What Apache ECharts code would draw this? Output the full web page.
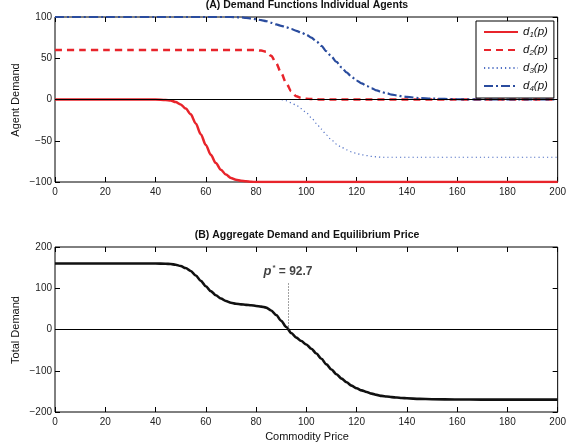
<!DOCTYPE html>
<html>
<head>
<meta charset="utf-8">
<script src="https://cdn.jsdelivr.net/npm/echarts@6/dist/echarts.min.js"></script>
<style>html,body{margin:0;padding:0;background:#fff;}#c{width:569px;height:448px;}</style>
</head>
<body>
<div id="c"></div>
<script>
// ---- data ----
var price = [0,10,20,30,40,44,46,48,50,52,54,56,58,60,62,64,66,68,70,72,74,76,78,80,82,84,86,88,90,92,94,96,98,100,102,104,106,108,110,112,114,116,118,120,122,124,126,128,130,132,134,136,138,140,145,150,160,170,180,190,200];
var d1 = [0,0,0,0,0,-0.5,-1.2,-3,-6,-11,-18,-29,-42,-55,-67,-77,-85,-91,-95,-97.3,-98.5,-99.2,-99.7,-100,-100,-100,-100,-100,-100,-100,-100,-100,-100,-100,-100,-100,-100,-100,-100,-100,-100,-100,-100,-100,-100,-100,-100,-100,-100,-100,-100,-100,-100,-100,-100,-100,-100,-100,-100,-100,-100];
var d2 = [60,60,60,60,60,60,60,60,60,60,60,60,60,60,60,60,60,60,60,60,60,60,60,59.8,59.3,58,53,44,32,20,10,4,2,1,0.5,0.2,0,0,0,0,0,0,0,0,0,0,0,0,0,0,0,0,0,0,0,0,0,0,0,0,0];
var d3 = [0,0,0,0,0,0,0,0,0,0,0,0,0,0,0,0,0,0,0,0,0,0,0,0,0,0,0,0,0,-1.5,-4,-7,-11,-16,-22,-29,-36,-43,-49,-54,-58,-61,-63.5,-65.5,-67,-68,-69,-69.5,-70,-70,-70,-70,-70,-70,-70,-70,-70,-70,-70,-70,-70];
var d4 = [100,100,100,100,100,100,100,100,100,100,100,100,100,100,100,100,100,100,100,99.8,99.5,99,98.3,97.3,96.2,95,93,91,89.3,87.5,85.5,83.3,81,78.5,75,70.5,65,58.5,52,45.5,39,33,27.5,23,19.5,16.5,13.5,11,9,7.5,6,5,4,3.2,1.7,1,0.3,0,0,0,0];
var total = [160,160,160,160,160,159.5,158.8,157,154,149,142,131,118,105,93,83,75,69,65,62.5,61,59.8,58.8,57.1,55.5,53,46,35,21.3,6,-8.5,-19.7,-28,-36.5,-46.5,-58.3,-71,-84.5,-97,-108.5,-119,-128,-136,-142.5,-147.5,-151.5,-155.5,-158.5,-161,-162.5,-164,-165,-166,-166.8,-168.3,-169,-169.7,-170,-170,-170,-170];
var seriesNames = ['d1','d2','d3','d4'];
var subs = ['1','2','3','4'];
var pStar = 92.7;
var pStarLabelY = 140;
var pStarLineTop = 112;
var xTicks = {min:0, max:200, interval:20};
var yTopTicks = {min:-100, max:100, interval:50};
var yBotTicks = {min:-200, max:200, interval:100};
var titleA = '(A) Demand Functions Individual Agents';
var titleB = '(B) Aggregate Demand and Equilibrium Price';
var yNameA = 'Agent Demand';
var yNameB = 'Total Demand';
var xNameB = 'Commodity Price';

function pairs(ys){ return price.map(function(p,i){ return [p, ys[i]]; }); }
function minusFmt(v){ return String(v).replace('-', '\u2212'); }

var FONT = 'Liberation Sans, Arial, Helvetica, sans-serif';

function xAx(gi, pos, show){
  return {type:'value', gridIndex:gi, position:pos, min:xTicks.min, max:xTicks.max, interval:xTicks.interval,
    axisLine:{show:false, onZero:false}, splitLine:{show:false},
    axisTick:{show:true, inside:true, length:5, lineStyle:{color:'#000'}},
    axisLabel:{show:show, margin:5, formatter:minusFmt, color:'#222', fontSize:10, fontFamily:FONT}};
}
function yAx(gi, pos, t, show){
  return {type:'value', gridIndex:gi, position:pos, min:t.min, max:t.max, interval:t.interval,
    axisLine:{show:false, onZero:false}, splitLine:{show:false},
    axisTick:{show:true, inside:true, length:5, lineStyle:{color:'#000'}},
    axisLabel:{show:show, margin:3, formatter:minusFmt, color:'#222', fontSize:10, fontFamily:FONT}};
}

var chart = echarts.init(document.getElementById('c'), null, {renderer:'canvas'});
var colors = ['#e8242b','#e8242b','#4f6fc4','#2a4c9e'];
var widths = [2.5,2.5,1.2,2.2];
var types = ['solid',[7,5],[1.2,3],[9,3,2,3]];
var dataSets = [d1,d2,d3,d4];

var series = dataSets.map(function(ds,i){
  var s = {name:seriesNames[i], type:'line', xAxisIndex:0, yAxisIndex:0, data:pairs(ds),
    showSymbol:false, symbol:'none', smooth:0.3, smoothMonotone:'x',
    lineStyle:{color:colors[i], width:widths[i], type:types[i]}, itemStyle:{color:colors[i]}, z:3};
  if(i===0){
    s.markLine = {silent:true, symbol:'none', animation:false, label:{show:false},
      lineStyle:{color:'#000', type:'solid', width:1}, data:[{yAxis:0}]};
  }
  return s;
});
series.push({name:'total', type:'line', xAxisIndex:2, yAxisIndex:2, data:pairs(total),
  showSymbol:false, symbol:'none', smooth:0.3, smoothMonotone:'x',
  lineStyle:{color:'#111', width:2.6}, z:3,
  markLine:{silent:true, symbol:'none', animation:false, label:{show:false},
    data:[
      [{coord:[xTicks.min,0], lineStyle:{color:'#000', type:'solid', width:1}},{coord:[xTicks.max,0]}],
      [{coord:[pStar,0], lineStyle:{color:'#444', type:[1,2], width:1}},{coord:[pStar,pStarLineTop]}]
    ]}
});
series.push({name:'pstar', type:'scatter', xAxisIndex:2, yAxisIndex:2, data:[[pStar,pStarLabelY]],
  symbolSize:0, silent:true,
  label:{show:true, position:'inside', formatter:'{p|p}{s|*}{t| = ' + pStar + '}',
    rich:{p:{fontSize:13, fontWeight:'bold', fontStyle:'italic', fontFamily:FONT, color:'#111', lineHeight:16},
          s:{fontSize:8, fontWeight:'bold', fontFamily:FONT, color:'#111', verticalAlign:'top', lineHeight:16, padding:[0,0,0,1]},
          t:{fontSize:12, fontWeight:'bold', fontFamily:FONT, color:'#111', lineHeight:16}}}
});

var option = {
  animation:false,
  backgroundColor:'#fff',
  grid:[
    {left:55, right:10, top:17, height:165, show:true, borderColor:'#000', borderWidth:1, backgroundColor:'transparent'},
    {left:55, right:10, top:247, height:165, show:true, borderColor:'#000', borderWidth:1, backgroundColor:'transparent'}
  ],
  xAxis:[xAx(0,'bottom',true), xAx(0,'top',false), xAx(1,'bottom',true), xAx(1,'top',false)],
  yAxis:[yAx(0,'left',yTopTicks,true), yAx(0,'right',yTopTicks,false), yAx(1,'left',yBotTicks,true), yAx(1,'right',yBotTicks,false)],
  legend:{data:seriesNames, orient:'vertical', left:476, top:21, width:73,
    backgroundColor:'#fff', borderColor:'#000', borderWidth:1, borderRadius:0,
    padding:[5,6,5,7], itemWidth:34, itemHeight:14, itemGap:5, selectedMode:false,
    itemStyle:{opacity:0, borderWidth:0},
    formatter:function(n){ var i = seriesNames.indexOf(n); return '{d|d}{s|' + subs[i] + '}{d|(p)}'; },
    textStyle:{fontSize:11, fontStyle:'italic', fontFamily:FONT, color:'#111',
      rich:{d:{fontSize:11.5, fontStyle:'italic', fontFamily:FONT, color:'#111', lineHeight:14},
            s:{fontSize:8, fontStyle:'italic', fontFamily:FONT, color:'#111', verticalAlign:'bottom', lineHeight:14, padding:[5,0,0,0]}}}
  },
  graphic:[
    {type:'text', x:307, y:5, style:{text:titleA, font:'bold 10.5px ' + FONT, fill:'#111', textAlign:'center', textVerticalAlign:'middle'}},
    {type:'text', x:307, y:235, style:{text:titleB, font:'bold 10.5px ' + FONT, fill:'#111', textAlign:'center', textVerticalAlign:'middle'}},
    {type:'text', x:16, y:100, rotation:Math.PI/2, style:{text:yNameA, font:'11px ' + FONT, fill:'#111', textAlign:'center', textVerticalAlign:'middle'}},
    {type:'text', x:16, y:330, rotation:Math.PI/2, style:{text:yNameB, font:'11px ' + FONT, fill:'#111', textAlign:'center', textVerticalAlign:'middle'}},
    {type:'text', x:307, y:437, style:{text:xNameB, font:'11px ' + FONT, fill:'#111', textAlign:'center', textVerticalAlign:'middle'}}
  ],
  series:series
};
chart.setOption(option);
</script>
</body>
</html>
